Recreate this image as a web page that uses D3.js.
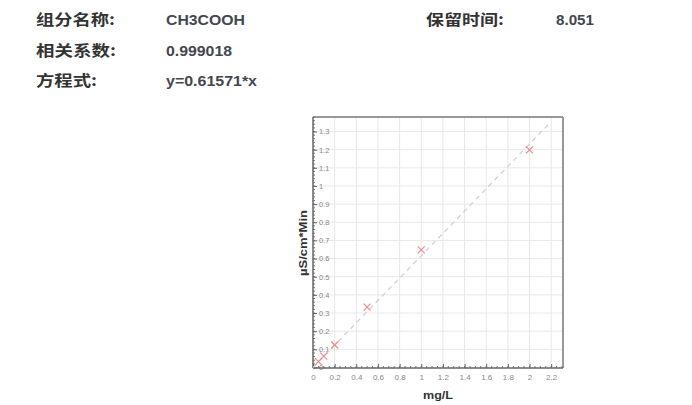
<!DOCTYPE html>
<html>
<head>
<meta charset="utf-8">
<script src="https://cdn.jsdelivr.net/npm/d3@7"></script>
<style>
  body { margin: 0; background: #fff; }
  svg { display: block; }
</style>
</head>
<body>
<div id="chart"></div>
<script>
// header info
const infoLabels = ["组分名称:", "相关系数:", "方程式:"];
const infoValues = ["CH3COOH", "0.999018", "y=0.61571*x"];
const rtLabel = "保留时间:";
const rtValue = "8.051";

// calibration points
const conc = [0.05, 0.1, 0.2, 0.5, 1, 2];
const resp = [0.032, 0.063, 0.124, 0.333, 0.648, 1.199];
const slope = 0.61571;
const lineX = [0, 2.2];

const xTicks = [0, 0.2, 0.4, 0.6, 0.8, 1, 1.2, 1.4, 1.6, 1.8, 2, 2.2];
const yTicks = [0, 0.1, 0.2, 0.3, 0.4, 0.5, 0.6, 0.7, 0.8, 0.9, 1, 1.1, 1.2, 1.3];

var W = 692, H = 405;
var svg = d3.select("#chart").append("svg")
    .attr("width", W)
    .attr("height", H);

// header text
var rowsY = [20, 51, 81];
var labelW = [79, 80, 61];
var valueW = [79, 66, 91];
infoLabels.forEach(function(t, i) {
    svg.append("text")
        .attr("x", 36).attr("y", rowsY[i])
        .attr("dy", "0.35em")
        .attr("font-family", "'Noto Sans CJK SC', sans-serif")
        .attr("font-size", 15).attr("font-weight", "bold")
        .attr("fill", "#333")
        .attr("textLength", labelW[i]).attr("lengthAdjust", "spacingAndGlyphs")
        .text(t);
    svg.append("text")
        .attr("x", 166).attr("y", rowsY[i])
        .attr("dy", "0.35em")
        .attr("font-family", "'Liberation Sans Narrow', 'Liberation Sans', Arial, sans-serif")
        .attr("font-size", 15).attr("font-weight", "bold")
        .attr("fill", "#434750")
        .attr("textLength", valueW[i]).attr("lengthAdjust", "spacingAndGlyphs")
        .text(infoValues[i]);
});
svg.append("text")
    .attr("x", 426).attr("y", rowsY[0]).attr("dy", "0.35em")
    .attr("font-family", "'Noto Sans CJK SC', sans-serif")
    .attr("font-size", 15).attr("font-weight", "bold")
    .attr("fill", "#333")
    .attr("textLength", 78).attr("lengthAdjust", "spacingAndGlyphs")
    .text(rtLabel);
svg.append("text")
    .attr("x", 556).attr("y", rowsY[0]).attr("dy", "0.35em")
    .attr("font-family", "'Liberation Sans Narrow', 'Liberation Sans', Arial, sans-serif")
    .attr("font-size", 15).attr("font-weight", "bold")
    .attr("fill", "#434750")
    .attr("textLength", 38).attr("lengthAdjust", "spacingAndGlyphs")
    .text(rtValue);

// plot area
var pLeft = 313, pRight = 562, pTop = 117, pBottom = 368;
var x = d3.scaleLinear().domain([0, 2.3]).range([pLeft, pRight]);
var y = d3.scaleLinear().domain([0, 1.38]).range([pBottom - 0.5, pTop]);

// grid
svg.append("g").selectAll("line")
    .data(xTicks.slice(1))
    .enter().append("line")
    .attr("x1", d => x(d)).attr("x2", d => x(d))
    .attr("y1", pTop).attr("y2", pBottom)
    .attr("stroke", "#e8e8e8").attr("stroke-width", 1);
svg.append("g").selectAll("line")
    .data(yTicks.slice(1))
    .enter().append("line")
    .attr("x1", pLeft).attr("x2", pRight)
    .attr("y1", d => y(d)).attr("y2", d => y(d))
    .attr("stroke", "#e8e8e8").attr("stroke-width", 1);

// frame top / right
svg.append("line")
    .attr("x1", pLeft).attr("x2", pRight + 1)
    .attr("y1", pTop).attr("y2", pTop)
    .attr("stroke", "#999").attr("stroke-width", 2);
svg.append("line")
    .attr("x1", pRight + 1).attr("x2", pRight + 1)
    .attr("y1", pTop).attr("y2", pBottom)
    .attr("stroke", "#999").attr("stroke-width", 2);

// minor ticks
var yMinor = d3.range(0, 1.381, 0.02);
var xMinor = d3.range(0, 2.301, 0.05);
svg.append("g").selectAll("line")
    .data(yMinor)
    .enter().append("line")
    .attr("x1", pLeft).attr("x2", pLeft + 2)
    .attr("y1", d => y(d)).attr("y2", d => y(d))
    .attr("stroke", "#777").attr("stroke-width", 1);
svg.append("g").selectAll("line")
    .data(xMinor)
    .enter().append("line")
    .attr("x1", d => x(d)).attr("x2", d => x(d))
    .attr("y1", pBottom).attr("y2", pBottom - 2)
    .attr("stroke", "#777").attr("stroke-width", 1);

// y axis (labels inside)
var yAxis = svg.append("g")
    .attr("transform", `translate(${pLeft}, 0)`)
    .call(d3.axisRight(y).tickValues(yTicks).tickSize(4).tickPadding(2)
        .tickFormat(d => d3.format("~g")(d)));
yAxis.select(".domain").remove();
yAxis.selectAll(".tick line").attr("stroke", "#666");
yAxis.selectAll(".tick text")
    .attr("fill", "#888")
    .attr("font-family", "'Liberation Sans', Arial, sans-serif")
    .attr("font-size", 7.5);

// x axis
var xAxis = svg.append("g")
    .attr("transform", `translate(0, ${pBottom})`)
    .call(d3.axisBottom(x).tickValues(xTicks).tickSize(-4).tickPadding(6)
        .tickFormat(d => d3.format("~g")(d)));
xAxis.select(".domain").remove();
xAxis.selectAll(".tick line").attr("stroke", "#666");
xAxis.selectAll(".tick text")
    .attr("fill", "#888")
    .attr("font-family", "'Liberation Sans', Arial, sans-serif")
    .attr("font-size", 8);

// axis lines
svg.append("line")
    .attr("x1", pLeft).attr("x2", pLeft)
    .attr("y1", pTop).attr("y2", pBottom)
    .attr("stroke", "#666").attr("stroke-width", 1.5);
svg.append("line")
    .attr("x1", pLeft).attr("x2", pRight + 1)
    .attr("y1", pBottom).attr("y2", pBottom)
    .attr("stroke", "#666").attr("stroke-width", 1.5);

// fit line
svg.append("path")
    .datum(lineX)
    .attr("fill", "none")
    .attr("stroke", "#cfcfcf")
    .attr("stroke-width", 1.2)
    .attr("stroke-dasharray", "5,4")
    .attr("d", d3.line().x(d => x(d)).y(d => y(d * slope)));

// markers
var pts = conc.map((c, i) => ({c: c, r: resp[i]}));
var s = 3.5;
svg.append("g").selectAll("path")
    .data(pts)
    .enter().append("path")
    .attr("d", d => `M${x(d.c) - s},${y(d.r) - s}L${x(d.c) + s},${y(d.r) + s}M${x(d.c) - s},${y(d.r) + s}L${x(d.c) + s},${y(d.r) - s}`)
    .attr("stroke", "#f08a8a").attr("stroke-width", 1.2)
    .attr("fill", "none");

// axis titles
svg.append("text")
    .attr("transform", `translate(303, 243) rotate(-90)`)
    .attr("text-anchor", "middle")
    .attr("dy", "0.35em")
    .attr("font-family", "'Liberation Sans', Arial, sans-serif")
    .attr("font-size", 11).attr("font-weight", "bold")
    .attr("fill", "#333")
    .attr("textLength", 66).attr("lengthAdjust", "spacingAndGlyphs")
    .text("µS/cm*Min");
svg.append("text")
    .attr("x", 438).attr("y", 395.5)
    .attr("text-anchor", "middle")
    .attr("dy", "0.35em")
    .attr("font-family", "'Liberation Sans', Arial, sans-serif")
    .attr("font-size", 11).attr("font-weight", "bold")
    .attr("fill", "#333")
    .attr("textLength", 30).attr("lengthAdjust", "spacingAndGlyphs")
    .text("mg/L");
</script>
</body>
</html>
